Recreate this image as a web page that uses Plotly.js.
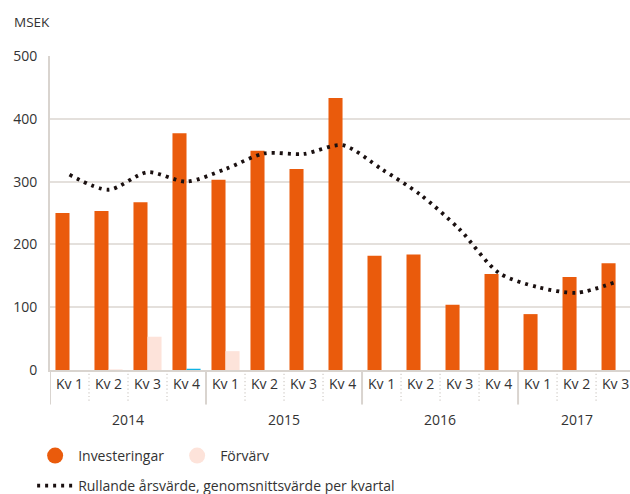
<!DOCTYPE html>
<html>
<head>
<meta charset="utf-8">
<script src="https://cdn.plot.ly/plotly-3.0.1.min.js"></script>
<style>html,body{margin:0;padding:0;background:#fff;}#chart{width:630px;height:494px;}</style>
</head>
<body>
<div id="chart"></div>
<script>
// ---- data ----
var years = ['2014','2014','2014','2014','2015','2015','2015','2015','2016','2016','2016','2016','2017','2017','2017'];
var quarters = ['Kv 1','Kv 2','Kv 3','Kv 4','Kv 1','Kv 2','Kv 3','Kv 4','Kv 1','Kv 2','Kv 3','Kv 4','Kv 1','Kv 2','Kv 3'];
var investeringar = [250, 253, 267, 377, 303, 349, 320, 433, 182, 184, 104, 153, 89, 148, 170];
var forvarv = [0, 1, 53, 2, 30, 0, 0, 0, 0, 0, 0, 0, 0, 0, 0];
var rullande = [311, 287, 315, 300, 320, 345, 344, 358, 320, 279, 224, 155, 132, 123, 140];
var yearLabels = ['2014','2015','2016','2017'];
var yTicks = [0, 100, 200, 300, 400, 500];

var ORANGE = '#ea5b0c', PINK = '#fde3da', CYAN = '#10b3e3', TXT = '#333333', GRID = '#e4e0dc';
var cats = years.map(function(y, i){ return y + ' ' + quarters[i]; });
var forvarvColors = forvarv.map(function(v, i){ return i === 3 ? CYAN : PINK; });
var FONT = 'Open Sans, Liberation Sans, sans-serif';

var traces = [
  {type:'bar', x:cats, y:investeringar, marker:{color:ORANGE}, showlegend:false, hoverinfo:'y'},
  {type:'bar', x:cats, y:forvarv, marker:{color:forvarvColors}, showlegend:false, hoverinfo:'y'},
  {type:'scatter', mode:'lines', x:cats, y:rullande, line:{color:'#1a1010', width:3.8, dash:'3px,5px', shape:'spline', smoothing:0.8},
   name:'Rullande årsvärde, genomsnittsvärde per kvartal', legend:'legend2'},
  {type:'scatter', mode:'markers', x:[null], y:[null], name:'Investeringar', marker:{color:ORANGE, size:16, symbol:'circle'}, legend:'legend'},
  {type:'scatter', mode:'markers', x:[null], y:[null], name:'Förvärv', marker:{color:PINK, size:16, symbol:'circle'}, legend:'legend'}
];

// separators below x-axis
var shapes = [];
for (var i = 0; i < cats.length; i++) {
  var isYear = (i === 0 || years[i] !== years[i-1]);
  shapes.push({type:'line', xref:'x', yref:'paper', x0:i-0.5, x1:i-0.5, y0:0, y1:isYear ? -0.11 : -0.1,
    line:{color: isYear ? '#d9d4cf' : '#cfcac5', width: isYear ? 2 : 1.2, dash: isYear ? 'solid' : '1.2px,2.5px'}, layer:'below'});
}

var annotations = [
  {text:'MSEK', xref:'paper', yref:'paper', x:-0.0655, y:1.107, xanchor:'left', yanchor:'middle', showarrow:false,
   font:{family:FONT, size:13.5, color:TXT}},
  {text:'<b>Investeringar och förvärv,</b>', xref:'paper', yref:'paper', x:-0.069, y:1.197, xanchor:'left', yanchor:'bottom', showarrow:false,
   font:{family:FONT, size:17, color:'#111'}}
];
for (var k = 0; k < yearLabels.length; k++) {
  var idx = [];
  for (var i = 0; i < years.length; i++) if (years[i] === yearLabels[k]) idx.push(i);
  var mid = (idx[0] + idx[idx.length-1]) / 2;
  annotations.push({text:yearLabels[k], xref:'x', yref:'paper', x:mid, y:-0.159, xanchor:'center', yanchor:'middle',
    showarrow:false, font:{family:FONT, size:14, color:TXT}});
}

var layout = {
  width:630, height:494,
  margin:{l:50, r:0, t:56, b:124, pad:0, autoexpand:false},
  paper_bgcolor:'#fff', plot_bgcolor:'#fff',
  font:{family:FONT, size:14, color:TXT},
  barmode:'group', bargap:0.28, bargroupgap:0,
  xaxis:{type:'category', categoryorder:'array', categoryarray:cats, tickvals:cats, ticktext:quarters,
    range:[-0.5, 14.37], showgrid:false, zeroline:false, showline:true, linecolor:'#d9d4cf', linewidth:2,
    ticks:'', tickfont:{family:FONT, size:14, color:TXT}, fixedrange:true, automargin:false},
  yaxis:{range:[0,500], tickvals:yTicks, showgrid:true, gridcolor:GRID, gridwidth:2, zeroline:false,
    showline:true, linecolor:'#d9d4cf', linewidth:2, ticks:'', ticklabelstandoff:8, automargin:false,
    tickfont:{family:FONT, size:14, color:TXT}},
  legend:{orientation:'h', xref:'container', yref:'container', x:0.051, xanchor:'left', y:0.077, yanchor:'middle',
    font:{family:FONT, size:14, color:TXT}, itemwidth:36,
    bgcolor:'rgba(0,0,0,0)', itemclick:false, entrywidth:91},
  legend2:{orientation:'h', xref:'container', yref:'container', x:0.051, xanchor:'left', y:0.016, yanchor:'middle',
    font:{family:FONT, size:14, color:TXT}, itemwidth:36,
    bgcolor:'rgba(0,0,0,0)', itemclick:false},
  shapes:shapes,
  annotations:annotations
};

Plotly.newPlot('chart', traces, layout, {displayModeBar:false, staticPlot:true});
</script>
</body>
</html>
